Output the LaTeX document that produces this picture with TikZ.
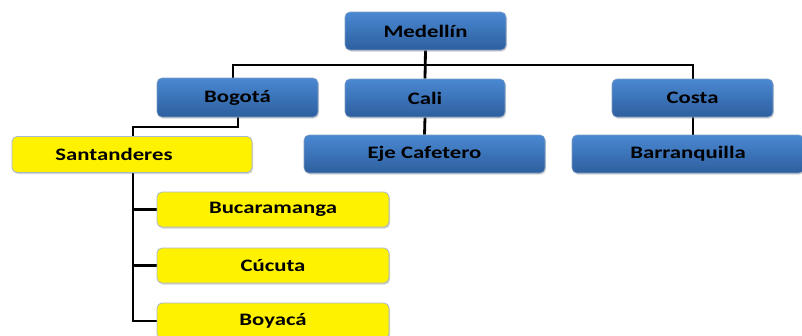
\documentclass[tikz,border=0pt]{standalone}
\usepackage{fontspec}
\setmainfont{Carlito}
\usetikzlibrary{backgrounds,shadows}
\definecolor{bluetop}{HTML}{4A88D2}
\definecolor{bluebot}{HTML}{2D5F9E}
\definecolor{blueedge}{HTML}{7E9CC4}
\definecolor{yelledge}{HTML}{A9B8CC}
\newcommand{\wtxt}[1]{\scalebox{1.3}[1]{#1}}
\tikzset{
  box/.style={rectangle, rounded corners=5pt, inner sep=0pt, text=black,
    font=\fontsize{17.5}{20}\selectfont\bfseries,
    drop shadow={opacity=0.35, shadow xshift=1pt, shadow yshift=-1.5pt}},
  bluebox/.style={box, draw=blueedge, line width=0.6pt, top color=bluetop, bottom color=bluebot},
  yellbox/.style={box, draw=yelledge, line width=0.8pt, fill=yellow},
  conn/.style={draw=black, line width=2.8pt}
}
\begin{document}
\begin{tikzpicture}[x=1pt,y=-1pt]
\useasboundingbox (0,0) rectangle (802,335);
\node[bluebox, minimum width=161pt, minimum height=38pt] (med) at (425.5,31) {\wtxt{Medellín}};
\node[bluebox, minimum width=161pt, minimum height=39pt] (bog) at (237.5,97.5) {\wtxt{Bogotá}};
\node[bluebox, minimum width=160pt, minimum height=38pt] (cal) at (425,98) {\wtxt{Cali}};
\node[bluebox, minimum width=161pt, minimum height=38pt] (cos) at (692.5,98) {\wtxt{Costa}};
\node[bluebox, minimum width=241pt, minimum height=38pt] (eje) at (424.5,154) {\wtxt{Eje Cafetero}};
\node[bluebox, minimum width=232pt, minimum height=38pt] (bar) at (688,154) {\wtxt{Barranquilla}};
\node[yellbox, minimum width=240pt, minimum height=36pt] (san) at (132,154.5) {\wtxt{Santanderes}\hspace*{36pt}};
\node[yellbox, minimum width=232pt, minimum height=35pt] (buc) at (273,209.5) {\wtxt{Bucaramanga}};
\node[yellbox, minimum width=232pt, minimum height=35pt] (cuc) at (273,265.5) {\wtxt{Cúcuta}};
\node[yellbox, minimum width=232pt, minimum height=36pt] (boy) at (273,321) {\wtxt{Boyacá}};
\coordinate (busL) at (233,65);
\coordinate (busR) at (693,65);
\coordinate (bogdown) at (238,127);
\coordinate (santop) at (133,127);
\coordinate (sanbot) at (133,321);
\begin{scope}[on background layer]
\draw[conn] (med.south) -- (cal.north);
\draw[conn] (busL |- bog.north) -- (busL) -- (busR) -- (busR |- cos.north);
\draw[conn] (cal.south) -- (eje.north);
\draw[conn] (busR |- cos.south) -- (busR |- bar.north);
\draw[conn] (bogdown |- bog.south) -- (bogdown) -- (santop) -- (sanbot) -- (boy.west);
\draw[conn] (santop |- buc.west) -- (buc.west);
\draw[conn] (santop |- cuc.west) -- (cuc.west);
\end{scope}
\end{tikzpicture}
\end{document}
